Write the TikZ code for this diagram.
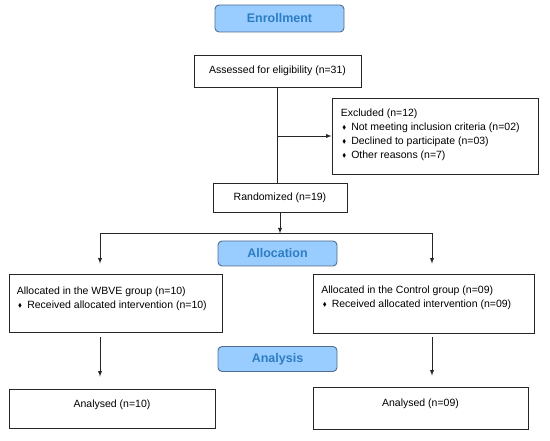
\documentclass[tikz,border=0pt]{standalone}
\usepackage{fontspec}
\setmainfont{Liberation Sans}
\usepackage{amssymb}
\definecolor{PhaseFill}{RGB}{153,204,255}
\definecolor{PhaseLine}{RGB}{80,110,145}
\definecolor{PhaseText}{RGB}{46,125,195}
\usetikzlibrary{positioning,calc}
\tikzset{>=latex}
\tikzset{phase/.style={rectangle,rounded corners=4pt,draw=PhaseLine,fill=PhaseFill,text=PhaseText,font=\fontsize{12.5}{14}\selectfont\bfseries,minimum width=119pt,minimum height=25pt,line width=.9pt}}
\tikzset{infobox/.style={rectangle,draw=black!85,line width=.9pt,font=\fontsize{10.5}{14}\selectfont}}
\tikzset{infotext/.style={anchor=north west,align=left,inner sep=3pt,font=\fontsize{10.5}{14}\selectfont}}
\tikzset{flowline/.style={line width=.9pt,black!85}}
\newcommand{\dbul}{\makebox[10.5pt][l]{\hspace{1.5pt}\raisebox{.6pt}{\scalebox{.55}{$\blacklozenge$}}}}

\begin{document}
\begin{tikzpicture}[x=1pt,y=1pt]
    \useasboundingbox (0,0) rectangle (550,440);
    \node[phase, minimum width=129pt, minimum height=27pt] (enrol) at (279.5,421.5) {Enrollment};
    \node[infobox, minimum width=167pt, minimum height=32pt] (assessed) at (277.5,369) {Assessed for eligibility (n=31)};
    \node[infobox, minimum width=206pt, minimum height=76pt] (excluded) at (435,304) {};
    \node[infotext] (exclT) at ([shift={(6,-8)}]excluded.north west) {Excluded (n=12)\\ \dbul Not meeting inclusion criteria (n=02)\\ \dbul Declined to participate (n=03)\\ \dbul Other reasons (n=7)};
    \node[infobox, minimum width=134pt, minimum height=29pt] (random) at (280,242.5) {Randomized (n=19)};
    \node[phase] (alloc) at (277.5,186.5) {Allocation};
    \node[infobox, minimum width=213pt, minimum height=58pt] (grpA) at (115.5,137) {};
    \node[infotext] (grpAT) at ([shift={(5,-10)}]grpA.north west) {Allocated in the WBVE group (n=10)\\ \dbul Received allocated intervention (n=10)};
    \node[infobox, minimum width=221pt, minimum height=59pt] (grpB) at (423.5,136.5) {};
    \node[infotext] (grpBT) at ([shift={(5.5,-9)}]grpB.north west) {Allocated in the Control group (n=09)\\ \dbul Received allocated intervention (n=09)};
    \node[phase] (analysis) at (277.5,81) {Analysis};
    \node[infobox, minimum width=206pt, minimum height=39pt, text depth=10pt] (anA) at (112,31.5) {Analysed (n=10)};
    \node[infobox, minimum width=215pt, minimum height=42pt, text depth=10pt] (anB) at (420.5,32) {Analysed (n=09)};
    % screening and split
    \draw[flowline] (assessed.south) -- (assessed.south |- random.north);
    \draw[flowline,->] (assessed.south |- excluded.west) -- (excluded.west);
    \coordinate (split) at ([yshift=-21pt]random.south);
    \coordinate (brA) at (100,207);
    \coordinate (brB) at (432,207);
    \draw[flowline,->] (random.south) -- (split);
    \draw[flowline] (brA) -- (brB);
    \draw[flowline,->,shorten >=10pt] (brA) -- (brA |- grpA.north);
    \draw[flowline,->,shorten >=10pt] (brB) -- (brB |- grpB.north);
    \draw[flowline,->,shorten <=5pt,shorten >=12pt] (grpA.south -| brA) -- (brA |- anA.north);
    \draw[flowline,->,shorten <=4pt,shorten >=11pt] (grpB.south -| brB) -- (brB |- anB.north);
\end{tikzpicture}
\end{document}
